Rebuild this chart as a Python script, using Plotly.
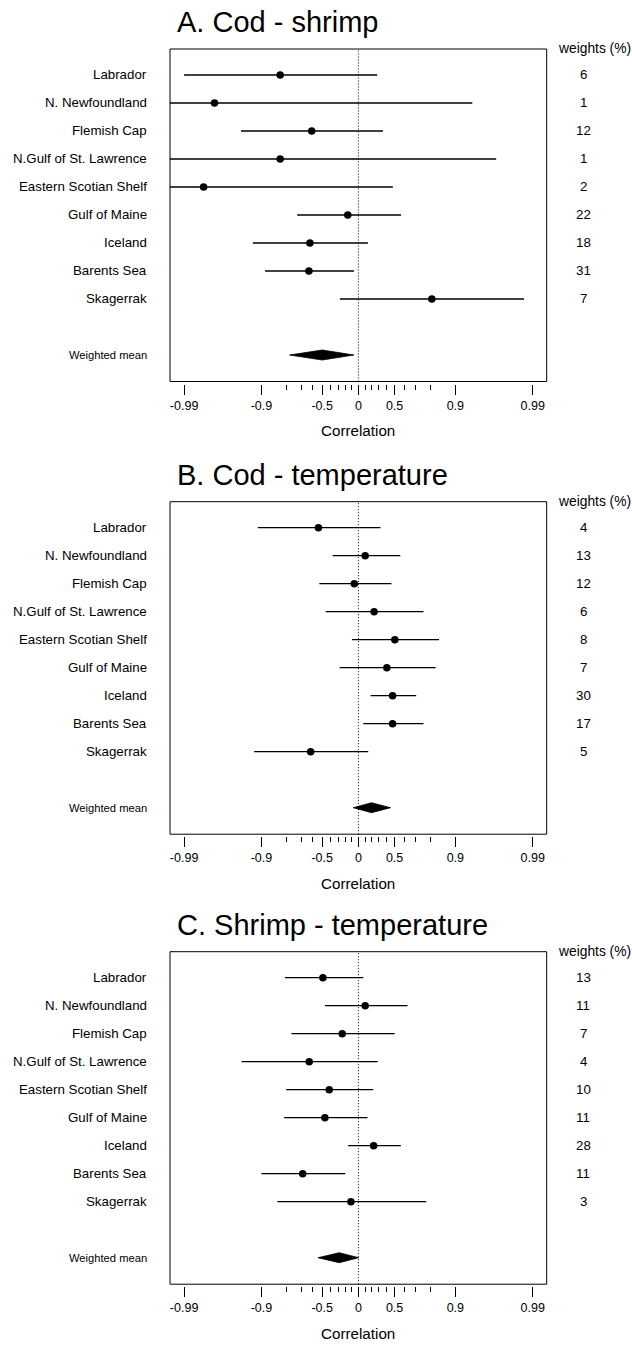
import numpy as np
import plotly.graph_objects as go

# ---------------- data ----------------
regions = ["Labrador", "N. Newfoundland", "Flemish Cap", "N.Gulf of St. Lawrence",
           "Eastern Scotian Shelf", "Gulf of Maine", "Iceland", "Barents Sea", "Skagerrak"]
panel_titles = ["A. Cod - shrimp", "B. Cod - temperature", "C. Shrimp - temperature"]

# correlation estimates and 95% CI (r scale)
a_est = [-0.83, -0.975, -0.61, -0.83, -0.982, -0.16, -0.627, -0.636, 0.806]
a_lo  = [-0.990, -0.998, -0.945, -0.998, -0.998, -0.73, -0.922, -0.889, -0.274]
a_hi  = [0.278, 0.939, 0.356, 0.970, 0.48, 0.57, 0.143, -0.068, 0.987]
a_w   = [6, 1, 12, 1, 2, 22, 18, 31, 7]
a_mean = [-0.50, -0.78, -0.068]  # est, lo, hi

b_est = [-0.542, 0.103, -0.062, 0.234, 0.503, 0.407, 0.477, 0.477, -0.620]
b_lo  = [-0.910, -0.373, -0.532, -0.459, -0.098, -0.278, 0.183, 0.073, -0.919]
b_hi  = [0.323, 0.562, 0.463, 0.757, 0.841, 0.825, 0.705, 0.757, 0.148]
b_w   = [4, 13, 12, 6, 8, 7, 30, 17, 5]
b_mean = [0.197, -0.079, 0.453]

c_est = [-0.492, 0.103, -0.241, -0.633, -0.416, -0.469, 0.227, -0.689, -0.113]
c_lo  = [-0.806, -0.469, -0.768, -0.944, -0.799, -0.810, -0.154, -0.900, -0.843]
c_hi  = [0.073, 0.633, 0.501, 0.285, 0.221, 0.138, 0.568, -0.197, 0.774]
c_w   = [13, 11, 7, 4, 10, 11, 28, 11, 3]
c_mean = [-0.283, -0.547, 0.003]

major_ticks = [-0.99, -0.9, -0.5, 0, 0.5, 0.9, 0.99]
major_labels = ["-0.99", "-0.9", "-0.5", "0", "0.5", "0.9", "0.99"]
minor_ticks = [-0.8, -0.7, -0.6, -0.4, -0.3, -0.2, -0.1, 0.1, 0.2, 0.3, 0.4, 0.6, 0.7, 0.8]

panels = [
    (a_est, a_lo, a_hi, a_w, a_mean),
    (b_est, b_lo, b_hi, b_w, b_mean),
    (c_est, c_lo, c_hi, c_w, c_mean),
]

# ---------------- layout geometry ----------------
W, H = 632, 1347
FONT = "Liberation Sans, Arial, Helvetica, sans-serif"
offsets = [0, 452.7, 902.7]
BOX_L, BOX_R = 170, 546.7
ZERO_PX = 358.4
PX_PER_Z = (532.7 - ZERO_PX) / np.arctanh(0.99)
ZL = (BOX_L - ZERO_PX) / PX_PER_Z
ZRr = (BOX_R - ZERO_PX) / PX_PER_Z
ROW1, STEP = 75.0, 28.0
BOX_TOP, BOX_BOT, AX_BOT = 49.0, 381.5, 383.5
Y_TOP = 1 - (ROW1 - BOX_TOP) / STEP
Y_BOT = 1 + (AX_BOT - ROW1) / STEP
box_y0 = (AX_BOT - BOX_BOT) / (AX_BOT - BOX_TOP)
DIA_H = 5.0 / STEP


def py(p):
    return 1 - p / H


fig = go.Figure()
annotations = []
shapes = []
layout = {}

n = len(regions)
rows = list(range(1, n + 1))
mean_row = n + 2

for i, (est, lo, hi, w, mean) in enumerate(panels):
    off = offsets[i]
    sfx = "" if i == 0 else str(i + 1)
    xr, yr = "x" + sfx, "y" + sfx

    # CI lines
    lx, ly = [], []
    for k in range(n):
        lx += [np.arctanh(lo[k]), np.arctanh(hi[k]), None]
        ly += [rows[k], rows[k], None]
    fig.add_trace(go.Scatter(x=lx, y=ly, mode="lines", line=dict(color="black", width=1.3),
                             xaxis=xr, yaxis=yr, showlegend=False, hoverinfo="skip"))
    # points
    fig.add_trace(go.Scatter(x=np.arctanh(est), y=rows, mode="markers",
                             marker=dict(color="black", size=7.5, symbol="circle"),
                             xaxis=xr, yaxis=yr, showlegend=False, cliponaxis=True))
    # diamond
    m_est, m_lo, m_hi = [np.arctanh(v) for v in mean]
    fig.add_trace(go.Scatter(x=[m_lo, m_est, m_hi, m_est, m_lo],
                             y=[mean_row, mean_row - DIA_H, mean_row, mean_row + DIA_H, mean_row],
                             mode="lines", fill="toself", fillcolor="black",
                             line=dict(color="black", width=0.8),
                             xaxis=xr, yaxis=yr, showlegend=False, hoverinfo="skip"))

    layout["xaxis" + sfx] = dict(
        domain=[BOX_L / W, BOX_R / W], range=[ZL, ZRr], anchor=yr,
        tickmode="array", tickvals=list(np.arctanh(major_ticks)), ticktext=major_labels,
        ticks="outside", ticklen=10, tickwidth=1, tickcolor="black",
        tickfont=dict(family=FONT, size=12.5, color="black"),
        showline=False, showgrid=False, zeroline=False,
        minor=dict(tickmode="array", tickvals=list(np.arctanh(minor_ticks)), ticks="outside",
                   ticklen=5, tickwidth=1, tickcolor="black", showgrid=False),
        fixedrange=True,
    )
    layout["yaxis" + sfx] = dict(
        domain=[py(AX_BOT + off), py(BOX_TOP + off)], range=[Y_BOT, Y_TOP], anchor=xr,
        showticklabels=False, showgrid=False, zeroline=False, showline=False, ticks="",
        fixedrange=True,
    )

    # box
    shapes.append(dict(type="rect", xref=xr + " domain", yref=yr + " domain",
                       x0=0, x1=1, y0=box_y0, y1=1, line=dict(color="black", width=1),
                       fillcolor="rgba(0,0,0,0)", layer="above"))
    # zero dotted line
    shapes.append(dict(type="line", xref=xr, yref=yr + " domain", x0=0, x1=0,
                       y0=box_y0, y1=1, line=dict(color="black", width=1, dash="1px,2px"),
                       layer="below"))

    # region labels + weights
    for k in range(n):
        annotations.append(dict(x=149 / W, xref="paper", y=rows[k], yref=yr, text=regions[k],
                                xanchor="right", yanchor="middle", showarrow=False,
                                font=dict(family=FONT, size=13.3, color="black")))
        annotations.append(dict(x=583 / W, xref="paper", y=rows[k], yref=yr, text=str(w[k]),
                                xanchor="center", yanchor="middle", showarrow=False,
                                font=dict(family=FONT, size=13.3, color="black")))
    annotations.append(dict(x=149 / W, xref="paper", y=mean_row, yref=yr, text="Weighted mean",
                            xanchor="right", yanchor="middle", showarrow=False,
                            font=dict(family=FONT, size=11.2, color="black")))
    annotations.append(dict(x=556 / W, xref="paper", y=py(BOX_TOP + off), yref="paper",
                            text="weights (%)", xanchor="left", yanchor="middle", showarrow=False,
                            font=dict(family=FONT, size=13.8, color="black")))
    # title
    annotations.append(dict(x=175 / W, xref="paper", y=py(22 + off), yref="paper",
                            text=panel_titles[i], xanchor="left", yanchor="middle", showarrow=False,
                            font=dict(family=FONT, size=29, color="black")))
    # axis title
    annotations.append(dict(x=ZERO_PX / W, xref="paper", y=py(431 + off), yref="paper",
                            text="Correlation", xanchor="center", yanchor="middle", showarrow=False,
                            font=dict(family=FONT, size=15.2, color="black")))

fig.update_layout(
    width=W, height=H, margin=dict(l=0, r=0, t=0, b=0, pad=0),
    paper_bgcolor="white", plot_bgcolor="white",
    showlegend=False, annotations=annotations, shapes=shapes, **layout,
)

fig.write_html("out.html")
